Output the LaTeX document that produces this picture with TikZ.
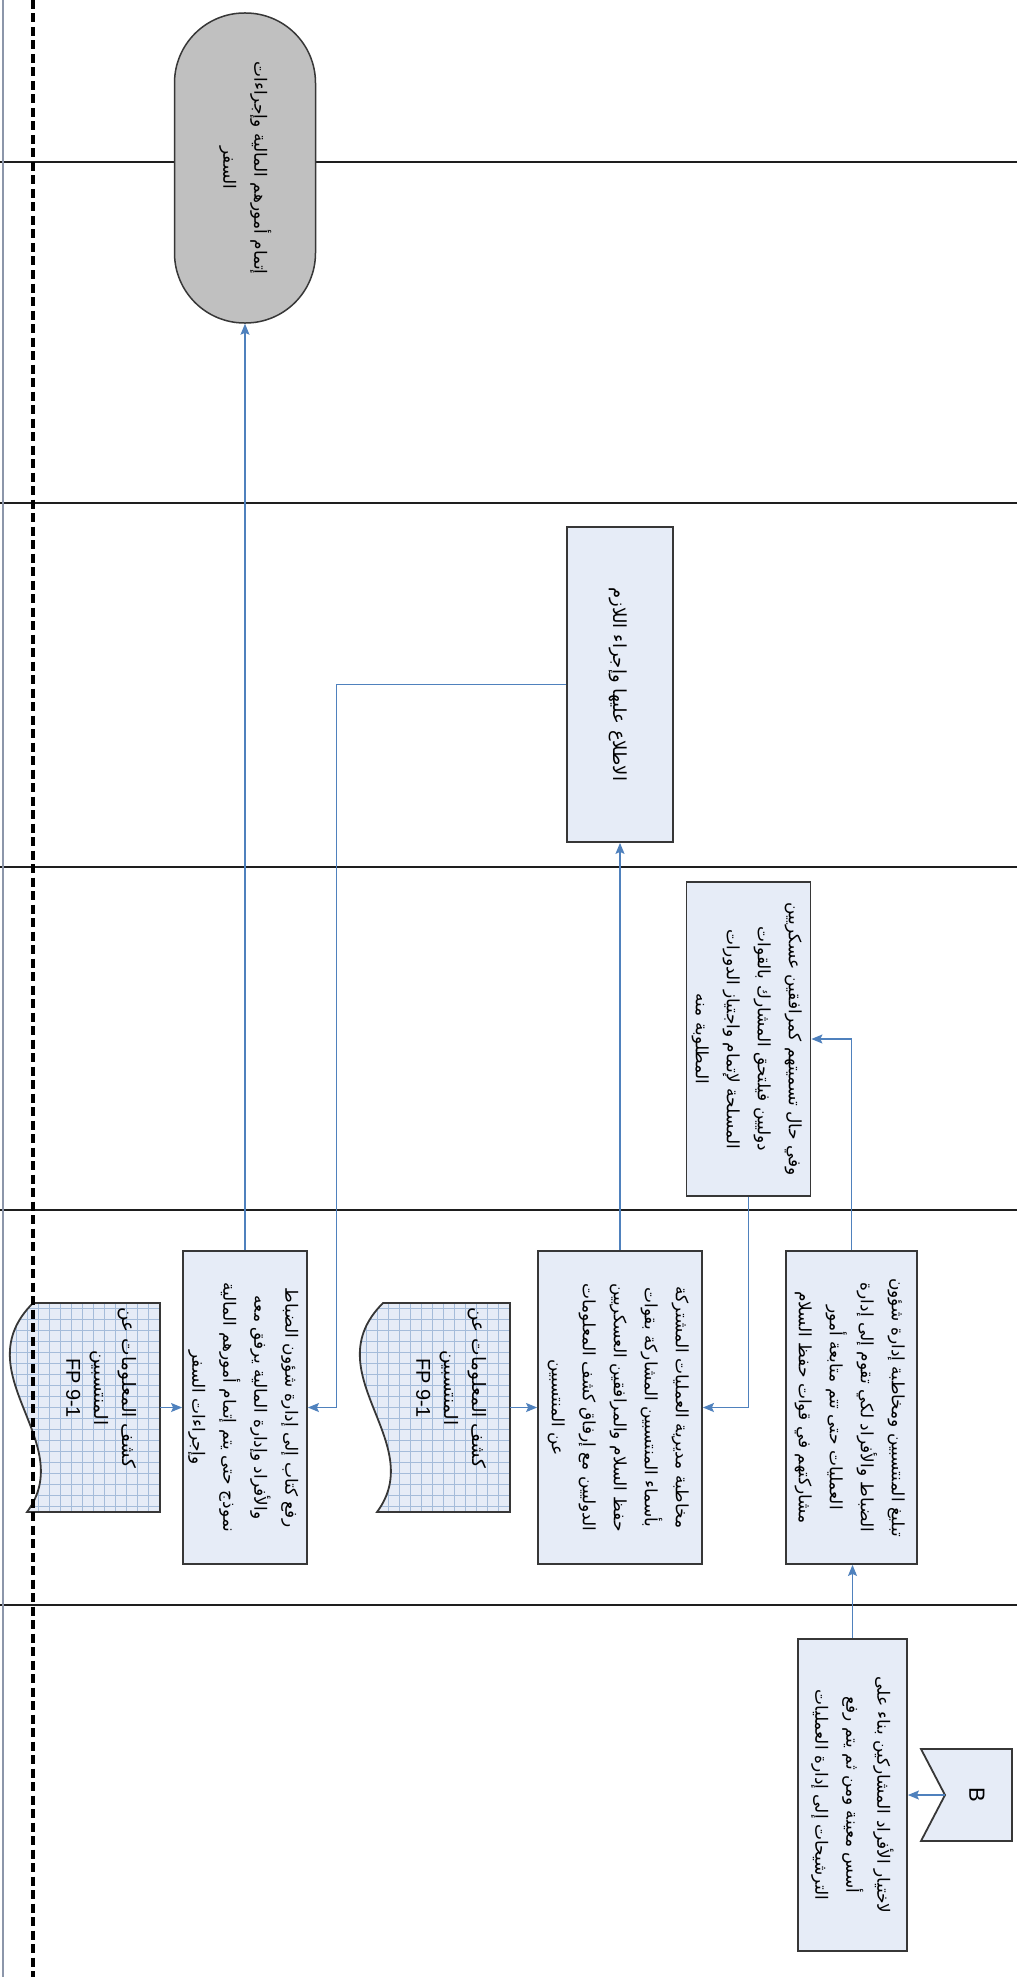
\documentclass[tikz,border=0pt]{standalone}
\usepackage{fontspec}
\usepackage{graphicx}
\setmainfont{Liberation Sans}
\newfontfamily\arabicfont[Script=Arabic]{DejaVu Sans}
\TeXXeTstate=1
\usetikzlibrary{arrows.meta,calc}
\definecolor{boxfill}{RGB}{230,236,247}
\definecolor{boxline}{RGB}{55,55,55}
\definecolor{conn}{RGB}{79,129,189}
\definecolor{lanecol}{RGB}{30,30,30}
\definecolor{edgegray}{RGB}{140,150,170}
\definecolor{gridc}{RGB}{165,188,218}
\definecolor{stadfill}{RGB}{192,192,192}
\newcommand{\arl}[1]{\beginR\arabicfont #1\endR}
\newcommand{\rottext}[1]{\rotatebox{-90}{\fontsize{17}{31}\selectfont\begin{tabular}{@{}c@{}}#1\end{tabular}}}
\newcommand{\rotdoctext}[1]{\rotatebox{-90}{\fontsize{18.5}{28}\selectfont\begin{tabular}{@{}c@{}}#1\end{tabular}}}
\tikzset{
  procbox/.style={draw=boxline, line width=1.8pt, fill=boxfill, inner sep=0pt},
  stadbox/.style={draw=boxline, line width=1.5pt, fill=stadfill, inner sep=0pt, rounded corners=70pt},
  docnode/.style={inner sep=0pt},
  conarrow/.style={draw=conn, line width=1.2pt, -{Stealth[length=11pt,width=9pt,inset=2pt]}},
  laneline/.style={draw=lanecol, line width=2.6pt},
}
\begin{document}
\begin{tikzpicture}[x=1pt,y=-1pt]
\useasboundingbox (0,0) rectangle (1017,1977);
\fill[white] (0,0) rectangle (1017,1977);
% lane separators
\foreach \ly in {162,503,867,1210,1605}
  \draw[laneline] (0,\ly) -- (1017,\ly);
% left frame line
\draw[edgegray, line width=1.5pt] (3,0) -- (3,1977);

% documents
\foreach \dx in {0,350}{
  \begin{scope}[xshift=\dx pt]
    \fill[boxfill] (33,1303) -- (160,1303) -- (160,1512) -- (27,1512) .. controls (79,1442) and (-37,1373) .. (33,1303) -- cycle;
    \begin{scope}
      \clip (33,1303) -- (160,1303) -- (160,1512) -- (27,1512) .. controls (79,1442) and (-37,1373) .. (33,1303) -- cycle;
      \foreach \gx in {5,16,...,170} \draw[gridc, line width=0.8pt] (\gx,1295) -- (\gx,1520);
      \foreach \gy in {1308,1319,...,1520} \draw[gridc, line width=0.8pt] (0,\gy) -- (170,\gy);
    \end{scope}
    \draw[boxline, line width=1.8pt] (33,1303) -- (160,1303) -- (160,1512) -- (27,1512) .. controls (79,1442) and (-37,1373) .. (33,1303) -- cycle;
  \end{scope}
}
\node[docnode, minimum width=152pt, minimum height=209pt] (d1) at (84,1407.5) {};
\node[docnode, minimum width=152pt, minimum height=209pt] (d2) at (434,1407.5) {};
\node[docnode] (d1t) at (100,1388) {\rotdoctext{\arl{كشف المعلومات عن}\\\arl{المنتسبين}\\\fontsize{20}{28}\selectfont FP 9-1}};
\node[docnode] (d2t) at (450,1388) {\rotdoctext{\arl{كشف المعلومات عن}\\\arl{المنتسبين}\\\fontsize{20}{28}\selectfont FP 9-1}};

% process boxes
\node[stadbox, minimum width=141pt, minimum height=310pt] (endn) at (245,168)
  {\rottext{\arl{إتمام أمورهم المالية وإجراءات}\\\arl{السفر}}};
\node[procbox, minimum width=106pt, minimum height=315pt] (chk) at (620,684.5)
  {\rottext{\fontsize{18}{31}\selectfont\arl{الاطلاع عليها وإجراء اللازم}}};
\node[procbox, minimum width=123pt, minimum height=314pt] (fi) at (748.5,1039)
  {\rottext{\arl{وفي حال تسميتهم كمرافقين عسكريين}\\\arl{دوليين فيلتحق المشارك بالقوات}\\\arl{المسلحة لإتمام واجتياز الدورات}\\\arl{المطلوبة منه}}};
\node[procbox, minimum width=123pt, minimum height=313pt] (rf) at (245,1407.5)
  {\rottext{\arl{رفع كتاب إلى إدارة شؤون الضباط}\\\arl{والأفراد وإدارة المالية يرفق معه}\\\arl{نموذج حتى يتم إتمام أمورهم المالية}\\\arl{وإجراءات السفر}}};
\node[procbox, minimum width=164pt, minimum height=313pt] (mk) at (620,1407.5)
  {\rottext{\arl{مخاطبة مديرية العمليات المشتركة}\\\arl{بأسماء المنتسبين المشاركة بقوات}\\\arl{حفظ السلام والمرافقين العسكريين}\\\arl{الدوليين مع إرفاق كشف المعلومات}\\\arl{عن المنتسبين}}};
\node[procbox, minimum width=131pt, minimum height=313pt] (tb) at (851.5,1407.5)
  {\rottext{\arl{تبليغ المنتسبين ومخاطبة إدارة شؤون}\\\arl{الضباط والأفراد لكي تقوم إلى إدارة}\\\arl{العمليات حتى تتم متابعة أمور}\\\arl{مشاركتهم في قوات حفظ السلام}}};
\node[procbox, minimum width=109pt, minimum height=312pt] (ch) at (852.5,1795)
  {\rottext{\arl{لاختيار الأفراد المشاركين بناء على}\\\arl{أسس معينة ومن ثم يتم رفع}\\\arl{الترشيحات إلى إدارة العمليات}}};

% off-page reference B
\filldraw[fill=boxfill, draw=boxline, line width=1.8pt] (1012,1749) -- (921,1749) -- (945,1795) -- (921,1841) -- (1012,1841) -- cycle;
\node[docnode] (bref) at (977,1795) {\rotatebox{-90}{\fontsize{22}{26}\selectfont B}};
\coordinate (btip) at (945,1795);

% connectors
\draw[conarrow] (btip) -- (ch.east);
\draw[conarrow] (ch.north) -- (ch.north |- tb.south);
\draw[conarrow] (tb.north) |- (fi.east);
\draw[conarrow] (fi.south) |- (mk.east);
\draw[conarrow] (mk.north) -- (chk.south);
\draw[conarrow] (chk.west) -- ++(-230,0) |- (rf.east);
\draw[conarrow] (rf.north) -- (endn.south);
\draw[conarrow] (d1.east) -- (rf.west);
\draw[conarrow] (d2.east) -- (mk.west);

% dashed boundary
\draw[black, line width=4.5pt, dash pattern=on 9pt off 4.5pt] (33,0) -- (33,1977);
\end{tikzpicture}
\end{document}
